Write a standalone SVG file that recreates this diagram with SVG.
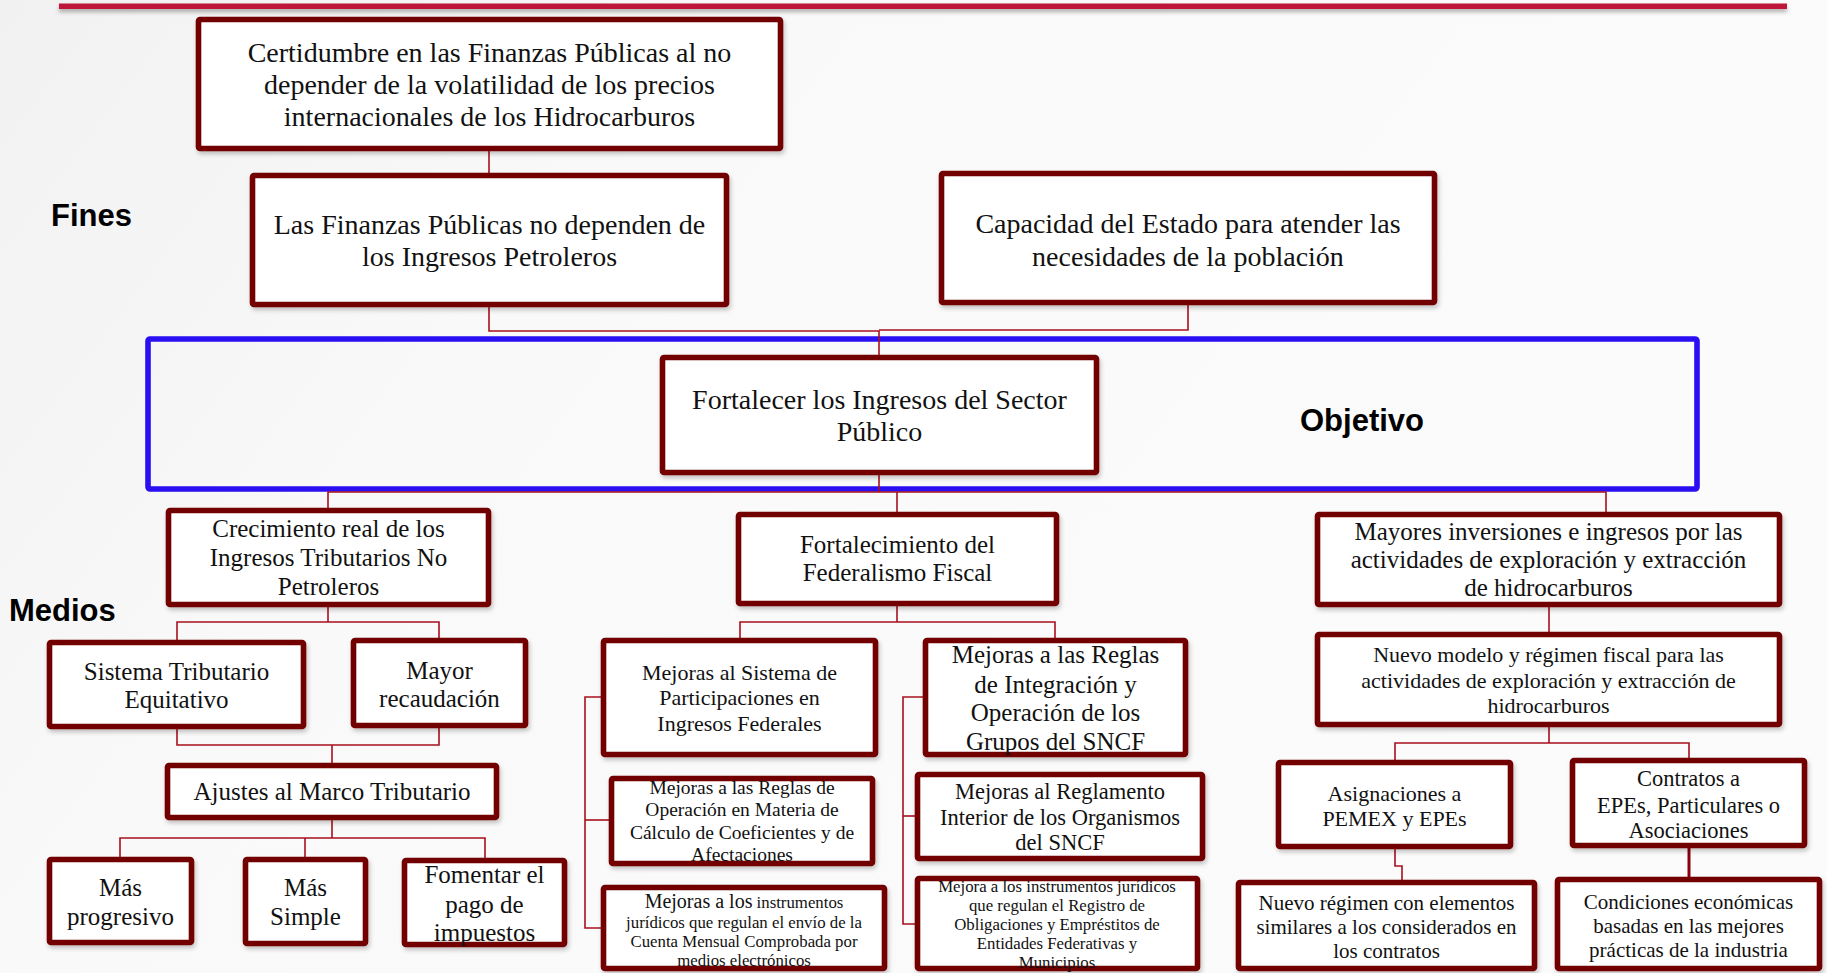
<svg xmlns="http://www.w3.org/2000/svg" width="1827" height="973" viewBox="0 0 1827 973">
<defs>
<linearGradient id="bg" x1="0" y1="0" x2="1" y2="0.4">
<stop offset="0" stop-color="#F1F1F1"/>
<stop offset="0.35" stop-color="#F9F9F9"/>
<stop offset="1" stop-color="#FBFBFB"/>
</linearGradient>
<filter id="sh" x="-5%" y="-5%" width="115%" height="125%">
<feDropShadow dx="1.5" dy="3" stdDeviation="2" flood-color="#000" flood-opacity="0.22"/>
</filter>
<filter id="lsh" x="-5%" y="-50%" width="110%" height="300%">
<feDropShadow dx="0" dy="3" stdDeviation="2" flood-color="#000" flood-opacity="0.3"/>
</filter>
</defs>
<style>
.box{fill:#fff;stroke:#720000;stroke-width:5.6;filter:url(#sh)}
.blue{fill:none;stroke:#2A0FF2;stroke-width:5.6}
.t{font-family:"Liberation Serif","Times New Roman",serif;fill:#111;text-anchor:middle}
.conn{fill:none;stroke:#A8101E;stroke-width:1.6}
.lab{font-family:"Liberation Sans",Arial,sans-serif;font-weight:bold;fill:#000;font-size:31px}
</style>
<rect width="1827" height="973" fill="url(#bg)"/>
<rect x="59" y="3.5" width="1728" height="5.5" fill="#BE1437" filter="url(#lsh)"/>

<text class="lab" x="51" y="226">Fines</text>
<text class="lab" x="9" y="621">Medios</text>

<g id="objetivo-frame">
<rect class="blue" x="148" y="339" width="1549" height="150" rx="2"/>
<text class="lab" x="1300" y="431">Objetivo</text>
</g>

<g id="connectors">
<path class="conn" d="M489,151 V173"/>
<path class="conn" d="M489,307 V331 H879 V355"/>
<path class="conn" d="M1188,305 V330 H879"/>
<path class="conn" d="M879,475 V492"/>
<path class="conn" d="M328,508 V492 H1606 V512"/>
<path class="conn" d="M897,492 V512"/>
<path class="conn" d="M328,607 V622"/>
<path class="conn" d="M177,640 V622 H439 V638"/>
<path class="conn" d="M177,729 V745 H439 V728"/>
<path class="conn" d="M332,745 V763"/>
<path class="conn" d="M332,820 V838"/>
<path class="conn" d="M120,857 V838 H485 V858"/>
<path class="conn" d="M305,838 V857"/>
<path class="conn" d="M897,606 V622"/>
<path class="conn" d="M740,638 V622 H1055 V638"/>
<path class="conn" d="M601,697 H585 V928 H601"/>
<path class="conn" d="M585,820 H609"/>
<path class="conn" d="M923,697 H903 V924 H915"/>
<path class="conn" d="M903,816 H915"/>
<path class="conn" d="M1549,607 V632"/>
<path class="conn" d="M1549,727 V743"/>
<path class="conn" d="M1395,760 V743 H1689 V758"/>
<path class="conn" d="M1395,849 V866 H1402 V880"/>
<path class="conn" d="M1689,848 V877" style="stroke-width:3;stroke:#8A0010"/>
</g>

<g id="n1"><rect class="box" x="198.5" y="19.5" width="582" height="129" rx="1.5"/>
<text class="t" font-size="28" x="489.5" y="62">Certidumbre en las Finanzas Públicas al no</text>
<text class="t" font-size="28" x="489.5" y="94">depender de la volatilidad de los precios</text>
<text class="t" font-size="28" x="489.5" y="126">internacionales de los Hidrocarburos</text></g>

<g id="n2"><rect class="box" x="252.5" y="175.5" width="474" height="129" rx="1.5"/>
<text class="t" font-size="28" x="489.5" y="234">Las Finanzas Públicas no dependen de</text>
<text class="t" font-size="28" x="489.5" y="266">los Ingresos Petroleros</text></g>

<g id="n3"><rect class="box" x="941.5" y="173.5" width="493" height="129" rx="1.5"/>
<text class="t" font-size="28" x="1188" y="233">Capacidad del Estado para atender las</text>
<text class="t" font-size="28" x="1188" y="266">necesidades de la población</text></g>

<g id="n4"><rect class="box" x="662.5" y="357.5" width="434" height="115" rx="1.5"/>
<text class="t" font-size="28" x="879.5" y="409">Fortalecer los Ingresos del Sector</text>
<text class="t" font-size="28" x="879.5" y="441">Público</text></g>

<g id="n5"><rect class="box" x="168.5" y="510.5" width="320" height="94" rx="1.5"/>
<text class="t" font-size="25" x="328.5" y="537">Crecimiento real de los</text>
<text class="t" font-size="25" x="328.5" y="566">Ingresos Tributarios No</text>
<text class="t" font-size="25" x="328.5" y="595">Petroleros</text></g>

<g id="n6"><rect class="box" x="738.5" y="514.5" width="318" height="89" rx="1.5"/>
<text class="t" font-size="25" x="897.5" y="553">Fortalecimiento del</text>
<text class="t" font-size="25" x="897.5" y="581">Federalismo Fiscal</text></g>

<g id="n7"><rect class="box" x="1317.5" y="514.5" width="462" height="90" rx="1.5"/>
<text class="t" font-size="25" x="1548.5" y="540">Mayores inversiones e ingresos por las</text>
<text class="t" font-size="25" x="1548.5" y="568">actividades de exploración y extracción</text>
<text class="t" font-size="25" x="1548.5" y="596">de hidrocarburos</text></g>

<g id="n8"><rect class="box" x="49.5" y="642.5" width="254" height="84" rx="1.5"/>
<text class="t" font-size="25" x="176.5" y="680">Sistema Tributario</text>
<text class="t" font-size="25" x="176.5" y="708">Equitativo</text></g>

<g id="n9"><rect class="box" x="353.5" y="640.5" width="172" height="85" rx="1.5"/>
<text class="t" font-size="25" x="439.5" y="679">Mayor</text>
<text class="t" font-size="25" x="439.5" y="707">recaudación</text></g>

<g id="n10"><rect class="box" x="167.5" y="765.5" width="329" height="52" rx="1.5"/>
<text class="t" font-size="25" x="332" y="800">Ajustes al Marco Tributario</text></g>

<g id="n11"><rect class="box" x="49.5" y="859.5" width="142" height="83" rx="1.5"/>
<text class="t" font-size="25" x="120.5" y="896">Más</text>
<text class="t" font-size="25" x="120.5" y="925">progresivo</text></g>

<g id="n12"><rect class="box" x="245.5" y="859.5" width="120" height="84" rx="1.5"/>
<text class="t" font-size="25" x="305.5" y="896">Más</text>
<text class="t" font-size="25" x="305.5" y="925">Simple</text></g>

<g id="n13"><rect class="box" x="404.5" y="860.5" width="160" height="84" rx="1.5"/>
<text class="t" font-size="25" x="484.5" y="883">Fomentar el</text>
<text class="t" font-size="25" x="484.5" y="913">pago de</text>
<text class="t" font-size="25" x="484.5" y="941">impuestos</text></g>

<g id="n14"><rect class="box" x="603.5" y="640.5" width="272" height="114" rx="1.5"/>
<text class="t" font-size="22" x="739.5" y="680">Mejoras al Sistema de</text>
<text class="t" font-size="22" x="739.5" y="705">Participaciones en</text>
<text class="t" font-size="22" x="739.5" y="731">Ingresos Federales</text></g>

<g id="n15"><rect class="box" x="611.5" y="778.5" width="261" height="85" rx="1.5"/>
<text class="t" font-size="19.5" x="742" y="794">Mejoras a las Reglas de</text>
<text class="t" font-size="19.5" x="742" y="816">Operación en Materia de</text>
<text class="t" font-size="19.5" x="742" y="839">Cálculo de Coeficientes y de</text>
<text class="t" font-size="19.5" x="742" y="861">Afectaciones</text></g>

<g id="n16"><rect class="box" x="603.5" y="887.5" width="281" height="81" rx="1.5"/>
<text class="t" font-size="16.8" x="744" y="908"><tspan font-size="20">Mejoras a los</tspan> instrumentos</text>
<text class="t" font-size="16.8" x="744" y="927.5">jurídicos que regulan el envío de la</text>
<text class="t" font-size="16.8" x="744" y="946.5">Cuenta Mensual Comprobada por</text>
<text class="t" font-size="16.8" x="744" y="966">medios electrónicos</text></g>

<g id="n17"><rect class="box" x="925.5" y="640.5" width="260" height="114" rx="1.5"/>
<text class="t" font-size="25" x="1055.5" y="663">Mejoras a las Reglas</text>
<text class="t" font-size="25" x="1055.5" y="693">de Integración y</text>
<text class="t" font-size="25" x="1055.5" y="721">Operación de los</text>
<text class="t" font-size="25" x="1055.5" y="750">Grupos del SNCF</text></g>

<g id="n18"><rect class="box" x="917.5" y="774.5" width="285" height="84" rx="1.5"/>
<text class="t" font-size="22.5" x="1060" y="799">Mejoras al Reglamento</text>
<text class="t" font-size="22.5" x="1060" y="825">Interior de los Organismos</text>
<text class="t" font-size="22.5" x="1060" y="850">del SNCF</text></g>

<g id="n19"><rect class="box" x="917.5" y="878.5" width="280" height="90" rx="1.5"/>
<text class="t" font-size="16.8" x="1057" y="892">Mejora a los instrumentos jurídicos</text>
<text class="t" font-size="16.8" x="1057" y="911">que regulan el Registro de</text>
<text class="t" font-size="16.8" x="1057" y="930">Obligaciones y Empréstitos de</text>
<text class="t" font-size="16.8" x="1057" y="949">Entidades Federativas  y</text>
<text class="t" font-size="16.8" x="1057" y="968">Municipios</text></g>

<g id="n20"><rect class="box" x="1317.5" y="634.5" width="462" height="90" rx="1.5"/>
<text class="t" font-size="22" x="1548.5" y="662">Nuevo modelo y régimen fiscal para las</text>
<text class="t" font-size="22" x="1548.5" y="688">actividades de exploración y extracción de</text>
<text class="t" font-size="22" x="1548.5" y="713">hidrocarburos</text></g>

<g id="n21"><rect class="box" x="1278.5" y="762.5" width="232" height="84" rx="1.5"/>
<text class="t" font-size="22" x="1394.5" y="801">Asignaciones a</text>
<text class="t" font-size="22" x="1394.5" y="826">PEMEX y EPEs</text></g>

<g id="n22"><rect class="box" x="1572.5" y="760.5" width="232" height="85" rx="1.5"/>
<text class="t" font-size="22.5" x="1688.5" y="786">Contratos a</text>
<text class="t" font-size="22.5" x="1688.5" y="813">EPEs, Particulares o</text>
<text class="t" font-size="22.5" x="1688.5" y="838">Asociaciones</text></g>

<g id="n23"><rect class="box" x="1238.5" y="882.5" width="296" height="86" rx="1.5"/>
<text class="t" font-size="21" x="1386.5" y="910">Nuevo régimen con elementos</text>
<text class="t" font-size="21" x="1386.5" y="934">similares a los considerados en</text>
<text class="t" font-size="21" x="1386.5" y="958">los contratos</text></g>

<g id="n24"><rect class="box" x="1557.5" y="879.5" width="262" height="89" rx="1.5"/>
<text class="t" font-size="21" x="1688.5" y="909">Condiciones económicas</text>
<text class="t" font-size="21" x="1688.5" y="933">basadas en las mejores</text>
<text class="t" font-size="21" x="1688.5" y="957">prácticas de la industria</text></g>
</svg>
